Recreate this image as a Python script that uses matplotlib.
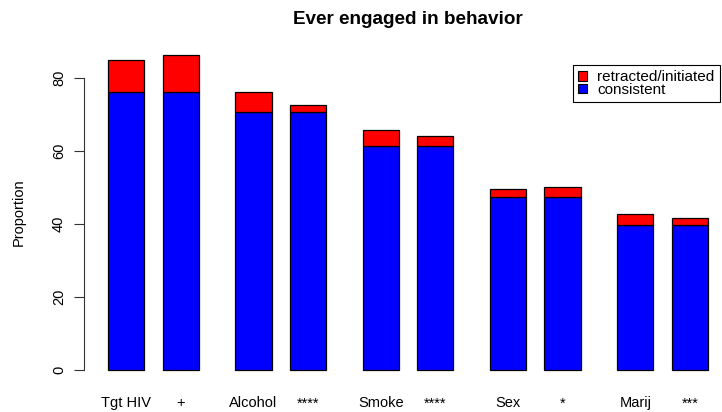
import matplotlib
matplotlib.use("Agg")
import matplotlib.pyplot as plt
from matplotlib.patches import Patch
import numpy as np

plt.rcParams['font.family'] = ['Liberation Sans', 'DejaVu Sans']

# data
categories = ["Tgt HIV", "+", "Alcohol", "****", "Smoke", "****", "Sex", "*", "Marij", "***"]
consistent = [76.2, 76.2, 70.8, 70.8, 61.5, 61.5, 47.4, 47.4, 39.7, 39.7]
retracted = [8.8, 10.2, 5.4, 1.8, 4.3, 2.6, 2.2, 2.8, 3.0, 1.9]

# R style barplot spacing: space before each bar (in bar widths)
space = [1, 0.5] * 5
width = 1.0
right = np.cumsum(np.array(space) + width)
mid = right - width / 2

W, H = 722, 412
fig = plt.figure(figsize=(W / 100, H / 100), dpi=100)
# plot region like R's (right edge runs past the picture)
ax = fig.add_axes([84 / W, 29.4 / H, 648 / W, 340.6 / H])

ax.bar(mid, consistent, width=width, color="#0000FF", edgecolor="black", linewidth=0.9)
ax.bar(mid, retracted, width=width, bottom=consistent, color="#FF0000",
       edgecolor="black", linewidth=0.9)

x0, x1 = mid[0] - width / 2, mid[-1] + width / 2
top = max(np.array(consistent) + np.array(retracted))
ax.set_xlim(x0 - 0.04 * (x1 - x0), x1 + 0.04 * (x1 - x0))
ax.set_ylim(-0.04 * top, top * 1.04)

for s in ["top", "right", "bottom"]:
    ax.spines[s].set_visible(False)
ax.spines["left"].set_bounds(0, 80)
ax.spines["left"].set_color("#333333")
ax.spines["left"].set_linewidth(0.8)

ax.set_yticks([0, 20, 40, 60, 80])
ax.tick_params(axis="y", length=7, width=0.8, color="#333333", pad=6, labelsize=10.5)
for lab in ax.get_yticklabels():
    lab.set_rotation(90)
    lab.set_va("center")

ax.set_xticks(mid)
ax.set_xticklabels(categories)
ax.tick_params(axis="x", length=0, pad=10, labelsize=10.5)

ax.set_ylabel("Proportion", fontsize=10.5)
ax.yaxis.set_label_coords((26 - 84) / 648, 0.5)

ax.set_title("Ever engaged in behavior", fontsize=13.6, fontweight="bold", pad=13)

handles = [Patch(facecolor="#FF0000", edgecolor="black", linewidth=0.8),
           Patch(facecolor="#0000FF", edgecolor="black", linewidth=0.8)]
leg = ax.legend(handles, ["retracted/initiated", "consistent"],
                loc="upper left", bbox_to_anchor=(573 / W, 1 - 65 / H),
                bbox_transform=fig.transFigure, fontsize=11,
                handlelength=0.55, handleheight=0.55, handletextpad=0.7,
                labelspacing=-0.1, borderpad=0.35, borderaxespad=0,
                fancybox=False, framealpha=1, edgecolor="black")
leg.get_frame().set_linewidth(0.8)

fig.savefig("out.png", dpi=100)
